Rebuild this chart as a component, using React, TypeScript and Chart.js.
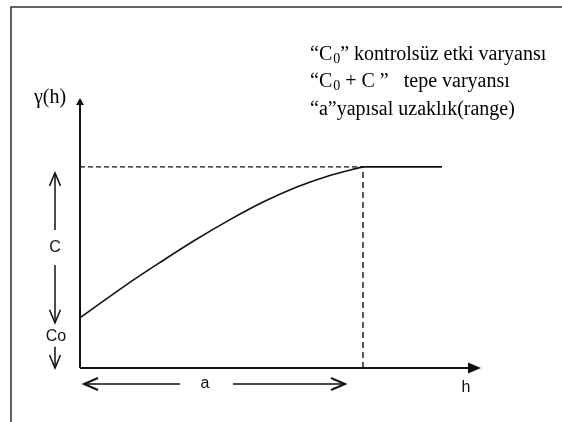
import React, { useEffect, useRef } from "react";
import { Chart, registerables } from "chart.js";

Chart.register(...registerables);

// Semivariogram model curve (h, gamma(h))
const hValues = [0, 1.65, 2.83, 4.0, 5.3, 6.47, 7.66, 8.72, 9.78, 10];
const gammaValues = [1.0, 1.66, 2.1, 2.52, 2.95, 3.3, 3.6, 3.81, 3.97, 4.0];

const nugget = 1.0; // C0
const sill = 4.0; // C0 + C
const range = 10; // a
const sillEnd = 12.79;
const xMax = 14.17;
const yMax = 5.37;

const legendLines = [
  { pre: "\u201CC", sub: "0", post: "\u201D kontrolsüz etki varyansı" },
  { pre: "\u201CC", sub: "0", post: " + C \u201D   tepe varyansı" },
  { pre: "\u201Ca\u201Dyapısal uzaklık(range)", sub: "", post: "" },
];

const SERIF = "'Liberation Serif', 'Times New Roman', serif";
const SANS = "'Liberation Sans', Arial, sans-serif";

const annotPlugin = {
  id: "annot",
  afterDraw(chart: any) {
    const ctx = chart.ctx as CanvasRenderingContext2D;
    const xs = chart.scales.x;
    const ys = chart.scales.y;
    const x0 = xs.getPixelForValue(0);
    const xEnd = xs.getPixelForValue(xMax);
    const y0 = ys.getPixelForValue(0);
    const yTop = ys.getPixelForValue(yMax);
    const ySill = ys.getPixelForValue(sill);
    const yNug = ys.getPixelForValue(nugget);
    const xRange = xs.getPixelForValue(range);
    ctx.save();
    // frame
    ctx.strokeStyle = "#333";
    ctx.lineWidth = 1.5;
    ctx.beginPath();
    ctx.moveTo(11, 422);
    ctx.lineTo(11, 7);
    ctx.lineTo(562, 7);
    ctx.stroke();

    // axes
    ctx.strokeStyle = "#111";
    ctx.fillStyle = "#111";
    ctx.lineWidth = 2;
    ctx.beginPath();
    ctx.moveTo(x0, y0);
    ctx.lineTo(x0, yTop + 5);
    ctx.moveTo(x0, y0);
    ctx.lineTo(xEnd - 10, y0);
    ctx.stroke();
    ctx.beginPath();
    ctx.moveTo(x0, yTop);
    ctx.lineTo(x0 - 4, yTop + 7);
    ctx.lineTo(x0 + 4, yTop + 7);
    ctx.closePath();
    ctx.fill();
    ctx.beginPath();
    ctx.moveTo(xEnd, y0);
    ctx.lineTo(xEnd - 13, y0 - 5.5);
    ctx.lineTo(xEnd - 13, y0 + 5.5);
    ctx.closePath();
    ctx.fill();

    // vertical C and Co arrows
    const ax = 55;
    ctx.lineWidth = 1.5;
    const vArrow = (tipY: number, dir: number) => {
      ctx.beginPath();
      ctx.moveTo(ax - 5.5, tipY - dir * 13);
      ctx.lineTo(ax, tipY);
      ctx.lineTo(ax + 5.5, tipY - dir * 13);
      ctx.stroke();
    };
    ctx.beginPath();
    ctx.moveTo(ax, ySill + 6);
    ctx.lineTo(ax, ySill + 63);
    ctx.moveTo(ax, ySill + 98);
    ctx.lineTo(ax, yNug + 5);
    ctx.moveTo(ax, yNug + 29);
    ctx.lineTo(ax, y0);
    ctx.stroke();
    vArrow(ySill + 6, -1);
    vArrow(yNug + 5, 1);
    vArrow(y0, 1);

    // horizontal a arrow
    const ay = y0 + 16;
    const leftTip = x0 + 4;
    const rightTip = xRange - 18;
    ctx.beginPath();
    ctx.moveTo(leftTip, ay);
    ctx.lineTo(x0 + 100, ay);
    ctx.moveTo(x0 + 153, ay);
    ctx.lineTo(rightTip, ay);
    ctx.stroke();
    ctx.lineWidth = 2;
    ctx.beginPath();
    ctx.moveTo(leftTip + 14, ay - 6);
    ctx.lineTo(leftTip, ay);
    ctx.lineTo(leftTip + 14, ay + 6);
    ctx.moveTo(rightTip - 14, ay - 6);
    ctx.lineTo(rightTip, ay);
    ctx.lineTo(rightTip - 14, ay + 6);
    ctx.stroke();

    // sans labels
    ctx.fillStyle = "#111";
    ctx.font = `16px ${SANS}`;
    ctx.textAlign = "center";
    ctx.textBaseline = "middle";
    ctx.fillText("C", ax, ySill + 81);
    ctx.fillText("Co", ax + 1, yNug + 19);
    ctx.fillText("a", x0 + 125, ay);
    ctx.fillText("h", 466, y0 + 20);

    // serif labels
    ctx.fillStyle = "#000";
    ctx.font = `20px ${SERIF}`;
    ctx.fillText("\u03B3(h)", 50, yTop);

    ctx.textAlign = "left";
    const lineYs = [55, 82, 110];
    legendLines.forEach((ln, i) => {
      let x = 310;
      const y = lineYs[i];
      ctx.font = `20px ${SERIF}`;
      ctx.fillText(ln.pre, x, y);
      x += ctx.measureText(ln.pre).width;
      if (ln.sub) {
        ctx.font = `14px ${SERIF}`;
        ctx.fillText(ln.sub, x + 1, y + 4);
        x += ctx.measureText(ln.sub).width + 1;
        ctx.font = `20px ${SERIF}`;
      }
      if (ln.post) ctx.fillText(ln.post, x, y);
    });
    ctx.restore();
  },
};

export default function App() {
  const ref = useRef<HTMLCanvasElement | null>(null);
  useEffect(() => {
    if (!ref.current) return;
    const curve = hValues.map((h, i) => ({ x: h, y: gammaValues[i] }));
    const chart = new Chart(ref.current, {
      type: "scatter",
      data: {
        datasets: [
          {
            label: "model",
            data: curve,
            showLine: true,
            borderColor: "#111",
            borderWidth: 1.6,
            pointRadius: 0,
            cubicInterpolationMode: "monotone",
          },
          {
            label: "sill dashed",
            data: [
              { x: 0, y: sill },
              { x: range, y: sill },
            ],
            showLine: true,
            borderColor: "#111",
            borderWidth: 1.4,
            borderDash: [5, 3],
            pointRadius: 0,
          },
          {
            label: "sill",
            data: [
              { x: range, y: sill },
              { x: sillEnd, y: sill },
            ],
            showLine: true,
            borderColor: "#111",
            borderWidth: 1.6,
            pointRadius: 0,
          },
          {
            label: "range",
            data: [
              { x: range, y: 0 },
              { x: range, y: sill },
            ],
            showLine: true,
            borderColor: "#111",
            borderWidth: 1.4,
            borderDash: [6, 4],
            pointRadius: 0,
          },
        ],
      },
      options: {
        responsive: false,
        animation: false,
        layout: { padding: { left: 80, top: 98, right: 81, bottom: 54 } },
        plugins: { legend: { display: false }, tooltip: { enabled: false } },
        scales: {
          x: { type: "linear", min: 0, max: xMax, display: false },
          y: { type: "linear", min: 0, max: yMax, display: false },
        },
      },
      plugins: [annotPlugin],
    });
    return () => chart.destroy();
  }, []);
  return (
    <div style={{ position: "fixed", left: 0, top: 0, width: 562, height: 422, background: "#fff" }}>
      <canvas ref={ref} width={562} height={422} style={{ width: 562, height: 422 }} />
    </div>
  );
}
